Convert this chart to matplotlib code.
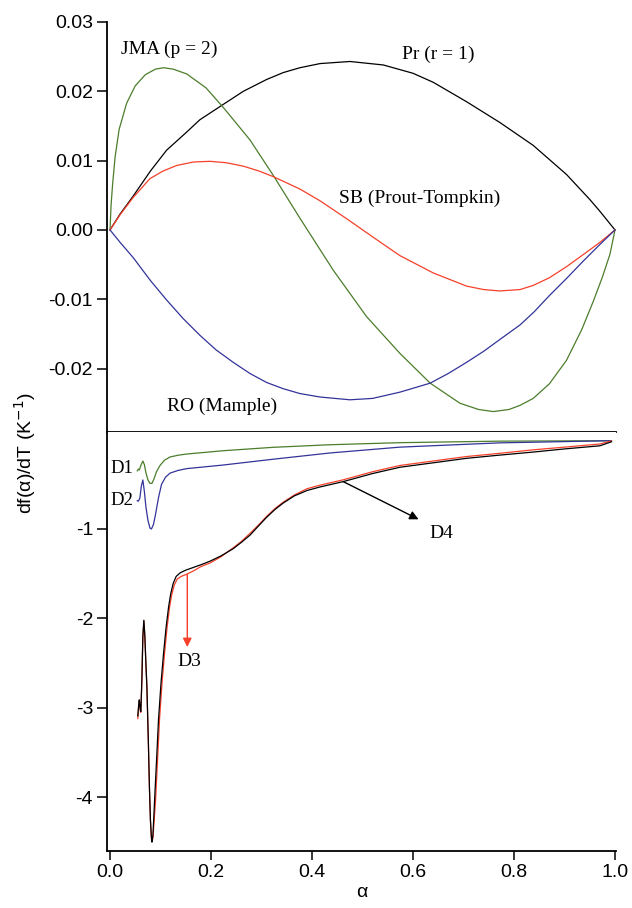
import numpy as np
import matplotlib.pyplot as plt

plt.rcParams['font.family'] = ['Liberation Sans', 'DejaVu Sans']
plt.rcParams['axes.unicode_minus'] = False

# top panel: model curves
pr_x = [0, 0.020, 0.046, 0.080, 0.112, 0.150, 0.178, 0.224, 0.264, 0.310, 0.343, 0.376, 0.416, 0.475,
        0.541, 0.600, 0.640, 0.706, 0.772, 0.838, 0.904, 0.950, 0.970, 1.0]
pr_y = [0, 0.0023, 0.0049, 0.0085, 0.0115, 0.0140, 0.0159, 0.0181, 0.0200, 0.0217, 0.0227, 0.0234,
        0.0240, 0.0243, 0.0238, 0.0226, 0.0213, 0.0185, 0.0155, 0.0122, 0.0080, 0.0044, 0.0027, 0]

jma_x = [0, 0.002, 0.005, 0.010, 0.018, 0.033, 0.050, 0.070, 0.090, 0.106, 0.125, 0.152, 0.190, 0.224,
         0.277, 0.323, 0.376, 0.442, 0.508, 0.574, 0.634, 0.693, 0.730, 0.759, 0.790, 0.812, 0.838,
         0.870, 0.904, 0.934, 0.957, 0.975, 0.990, 1.0]
jma_y = [0, 0.0035, 0.0065, 0.0105, 0.0145, 0.0183, 0.0208, 0.0224, 0.0232, 0.0234, 0.0232, 0.0225,
         0.0205, 0.0177, 0.0130, 0.0079, 0.0017, -0.0058, -0.0125, -0.0178, -0.0221, -0.0250, -0.0259,
         -0.0262, -0.0259, -0.0253, -0.0243, -0.0222, -0.0188, -0.0144, -0.0103, -0.0068, -0.0035, 0]

sb_x = [0, 0.020, 0.046, 0.079, 0.105, 0.132, 0.165, 0.198, 0.230, 0.264, 0.295, 0.323, 0.376, 0.416,
        0.469, 0.528, 0.574, 0.640, 0.706, 0.740, 0.772, 0.812, 0.838, 0.870, 0.904, 0.940, 0.970, 1.0]
sb_y = [0, 0.0022, 0.0047, 0.0074, 0.0085, 0.0093, 0.0098, 0.0099, 0.0097, 0.0092, 0.0085, 0.0077,
        0.0059, 0.0042, 0.0016, -0.0014, -0.0037, -0.0062, -0.0081, -0.0086, -0.0088, -0.0086,
        -0.0080, -0.0069, -0.0053, -0.0034, -0.0018, 0]

ro_x = [0, 0.020, 0.046, 0.080, 0.112, 0.145, 0.178, 0.210, 0.244, 0.277, 0.310, 0.343, 0.376, 0.416,
        0.475, 0.520, 0.574, 0.634, 0.670, 0.706, 0.740, 0.772, 0.812, 0.840, 0.871, 0.904, 0.937,
        0.970, 1.0]
ro_y = [0, -0.0018, -0.0040, -0.0073, -0.0101, -0.0128, -0.0152, -0.0173, -0.0191, -0.0207, -0.0220,
        -0.0229, -0.0236, -0.0241, -0.0245, -0.0243, -0.0234, -0.0221, -0.0207, -0.0191, -0.0175,
        -0.0158, -0.0137, -0.0118, -0.0094, -0.0070, -0.0045, -0.0021, 0]

# bottom panel: diffusion curves
d1_x = [0.054, 0.056, 0.058, 0.061, 0.065, 0.068, 0.071, 0.075, 0.079, 0.083, 0.087, 0.092, 0.099,
        0.108, 0.119, 0.135, 0.152, 0.224, 0.323, 0.436, 0.574, 0.772, 0.993]
d1_y = [-0.35, -0.33, -0.34, -0.29, -0.24, -0.28, -0.37, -0.45, -0.49, -0.49, -0.44, -0.36, -0.29,
        -0.23, -0.195, -0.175, -0.162, -0.125, -0.087, -0.058, -0.035, -0.018, -0.013]

d2_x = [0.054, 0.056, 0.059, 0.062, 0.065, 0.068, 0.071, 0.075, 0.079, 0.082, 0.086, 0.090, 0.096,
        0.102, 0.110, 0.119, 0.135, 0.152, 0.224, 0.323, 0.436, 0.574, 0.772, 0.993]
d2_y = [-0.684, -0.69, -0.657, -0.52, -0.452, -0.58, -0.75, -0.90, -0.99, -1.0, -0.95, -0.84, -0.65,
        -0.50, -0.42, -0.375, -0.345, -0.325, -0.285, -0.22, -0.15, -0.085, -0.037, -0.013]

d4_x = [0.055, 0.057, 0.058, 0.060, 0.061, 0.063, 0.065, 0.067, 0.069, 0.071, 0.073, 0.076, 0.078,
        0.080, 0.082, 0.083, 0.085, 0.088, 0.092, 0.096, 0.101, 0.106, 0.111, 0.116, 0.120, 0.125,
        0.131, 0.139, 0.150, 0.165, 0.180, 0.198, 0.220, 0.244, 0.260, 0.277, 0.295, 0.310, 0.327,
        0.343, 0.365, 0.390, 0.416, 0.462, 0.520, 0.574, 0.640, 0.706, 0.770, 0.838, 0.900, 0.970, 0.993]
d4_y = [-3.09, -2.95, -2.91, -3.02, -3.04, -2.70, -2.20, -2.02, -2.20, -2.50, -2.76, -3.40, -3.88,
        -4.25, -4.45, -4.50, -4.42, -4.06, -3.60, -3.13, -2.72, -2.39, -2.10, -1.87, -1.73, -1.61,
        -1.53, -1.49, -1.46, -1.43, -1.40, -1.36, -1.30, -1.22, -1.15, -1.07, -0.96, -0.87, -0.78,
        -0.71, -0.63, -0.57, -0.53, -0.47, -0.38, -0.31, -0.26, -0.21, -0.175, -0.14, -0.105, -0.07, -0.025]

d3_x = [0.055, 0.057, 0.058, 0.060, 0.061, 0.063, 0.065, 0.067, 0.069, 0.071, 0.073, 0.076, 0.078,
        0.080, 0.082, 0.083, 0.085, 0.090, 0.094, 0.098, 0.103, 0.108, 0.113, 0.118, 0.122, 0.127,
        0.133, 0.141, 0.150, 0.165, 0.180, 0.198, 0.220, 0.244, 0.260, 0.277, 0.295, 0.310, 0.327,
        0.343, 0.365, 0.390, 0.416, 0.462, 0.520, 0.574, 0.640, 0.706, 0.770, 0.838, 0.900, 0.970, 0.993]
d3_y = [-3.12, -2.96, -2.92, -3.03, -3.05, -2.71, -2.21, -2.03, -2.21, -2.51, -2.77, -3.41, -3.89,
        -4.26, -4.46, -4.50, -4.45, -4.05, -3.60, -3.13, -2.72, -2.39, -2.10, -1.87, -1.74, -1.63,
        -1.56, -1.53, -1.51, -1.47, -1.42, -1.38, -1.31, -1.21, -1.14, -1.05, -0.95, -0.86, -0.77,
        -0.70, -0.62, -0.55, -0.51, -0.45, -0.36, -0.29, -0.24, -0.19, -0.155, -0.115, -0.085, -0.05, -0.015]

GREEN = '#4b7d2b'
BLUE = '#33339a'
RED = '#f5402a'
LW = 0.9

fig = plt.figure(figsize=(6.32, 9.08), dpi=100)
ax1 = fig.add_axes([0.1693, 0.5242, 0.8054, 0.4516])
ax2 = fig.add_axes([0.1693, 0.0628, 0.8054, 0.4614])

for ax in (ax1, ax2):
    ax.set_xlim(-0.006, 1.002)
    ax.spines['right'].set_visible(False)
    ax.spines['top'].set_visible(False)
    for s in ('left', 'bottom'):
        ax.spines[s].set_linewidth(1.3)
    ax.tick_params(direction='out', length=7, width=1.1, labelsize=14, pad=3)

# top panel
ax1.plot(pr_x, pr_y, color='black', lw=LW)
ax1.plot(jma_x, jma_y, color=GREEN, lw=LW)
ax1.plot(sb_x, sb_y, color=RED, lw=LW)
ax1.plot(ro_x, ro_y, color=BLUE, lw=LW)
ax1.set_ylim(-0.02915, 0.03)
top_ticks = [0.03, 0.02, 0.01, 0.00, -0.01, -0.02]
ax1.set_yticks(top_ticks)
ax1.set_yticklabels(['%.2f' % v for v in top_ticks])
ax1.tick_params(axis='x', bottom=False, labelbottom=False)

serif = ['Liberation Serif', 'DejaVu Serif']
ax1.text(0.118, 0.0261, 'JMA (p = 2)', family=serif, fontsize=14, ha='center', va='center')
ax1.text(0.650, 0.0254, 'Pr (r = 1)', family=serif, fontsize=14, ha='center', va='center')
ax1.text(0.614, 0.00457, 'SB (Prout-Tompkin)', family=serif, fontsize=14, ha='center', va='center')
ax1.text(0.221, -0.0254, 'RO (Mample)', family=serif, fontsize=14, ha='center', va='center')

# bottom panel
ax2.plot(d1_x, d1_y, color=GREEN, lw=LW)
ax2.plot(d2_x, d2_y, color=BLUE, lw=LW)
ax2.plot(d3_x, d3_y, color=RED, lw=LW)
ax2.plot(d4_x, d4_y, color='black', lw=LW)
ax2.set_ylim(-4.60, 0.084)
ax2.set_yticks([-1, -2, -3, -4])
ax2.set_yticklabels(['-1', '-2', '-3', '-4'])
ax2.set_xticks([0.0, 0.2, 0.4, 0.6, 0.8, 1.0])
ax2.set_xticklabels(['0.0', '0.2', '0.4', '0.6', '0.8', '1.0'])
ax2.tick_params(axis='x', length=6.5)

ax2.text(0.024, -0.322, 'D1', family=serif, fontsize=13.5, ha='center', va='center')
ax2.text(0.024, -0.676, 'D2', family=serif, fontsize=13.5, ha='center', va='center')
ax2.annotate('', xy=(0.153, -2.32), xytext=(0.153, -1.51),
             arrowprops=dict(arrowstyle='-|>', color=RED, lw=1.0, mutation_scale=13,
                             shrinkA=0, shrinkB=0))
ax2.text(0.158, -2.48, 'D3', family=serif, fontsize=14, ha='center', va='center')
ax2.annotate('', xy=(0.611, -0.892), xytext=(0.462, -0.471),
             arrowprops=dict(arrowstyle='-|>', color='black', lw=1.0, mutation_scale=13,
                             shrinkA=0, shrinkB=0))
ax2.text(0.657, -1.048, 'D4', family=serif, fontsize=14, ha='center', va='center')

ax2.set_xlabel('α', fontsize=14, labelpad=2)
fig.text(0.040, 0.501, 'df(α)/dT (K$^{-1}$)', rotation=90, fontsize=14,
         ha='center', va='center')

fig.savefig('out.png', dpi=100)
